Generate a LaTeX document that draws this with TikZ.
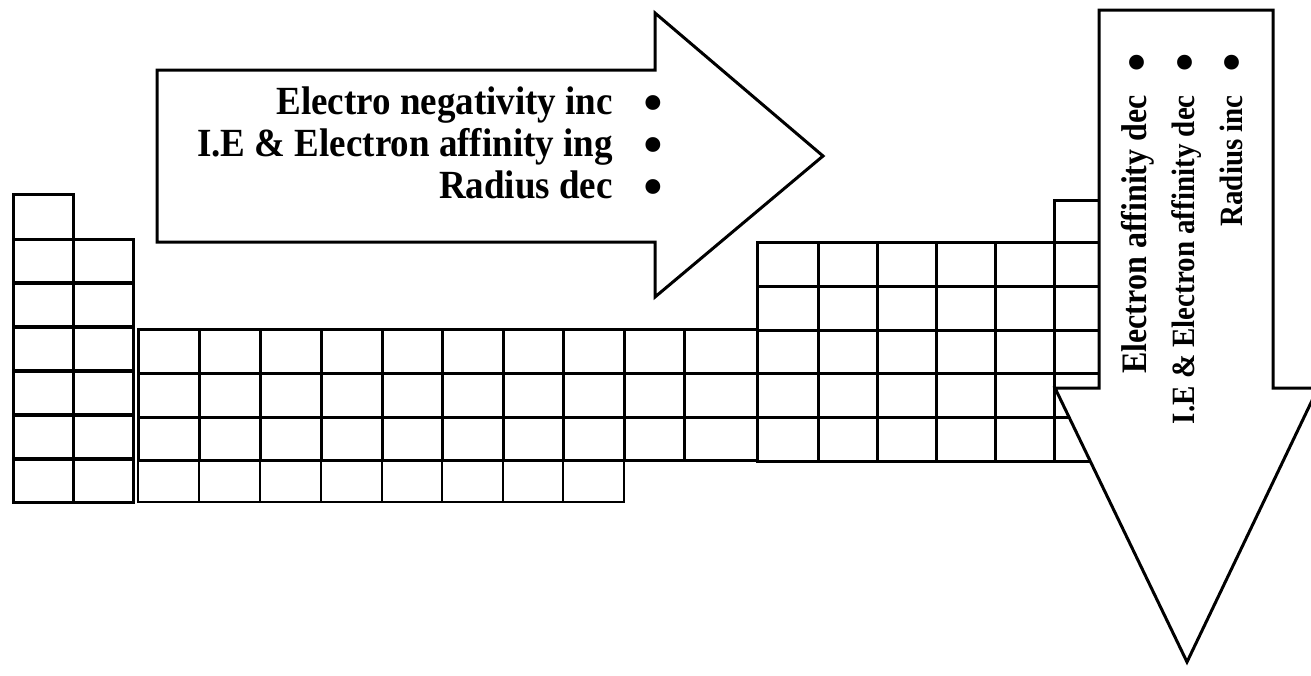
\documentclass[tikz,border=0pt]{standalone}
\usepackage{fontspec}
\setmainfont{Liberation Serif}
\usepackage{tikz}

\begin{document}
\begin{tikzpicture}[x=1pt,y=-1pt]
    \tikzstyle{cell}=[draw=black,line width=3pt]
    \tikzstyle{thin cell}=[draw=black,line width=1.6pt]
    \tikzstyle{big arrow}=[draw=black,fill=white,line width=3pt,miter limit=20]
    \tikzstyle{lbl}=[font=\fontsize{37}{44}\selectfont\bfseries,inner sep=0pt,yscale=1.08]
    \tikzstyle{vlbl}=[font=\fontsize{29}{35}\selectfont\bfseries,inner sep=0pt,rotate=90,yscale=1.12]
    \tikzstyle{dot}=[font=\fontsize{62}{62}\selectfont,inner sep=0pt,anchor=base,text height=0.5em,text depth=0pt]

\clip (0,0) rectangle (1311,675);

% s block
\draw[cell] (13,194) rectangle (73,239);
\foreach \y in {239,283,327,371,415,459}{
\draw[cell] (13,\y) rectangle (73,\y+43.5);
\draw[cell] (73,\y) rectangle (133,\y+43.5);
};

% d block
\foreach \a/\b in {138/199,199/260,260/321,321/382,382/442,442/503,503/563,563/624}{
\draw[thin cell] (\a,460) rectangle (\b,502);
};
\foreach \a/\b in {138/199,199/260,260/321,321/382,382/442,442/503,503/563,563/624,624/684,684/757}{
\foreach \y/\z in {329/373,373/417,417/460}{
\draw[cell] (\a,\y) rectangle (\b,\z);
};
};

% p block
\draw[cell] (1054,200) rectangle (1099,242);
\foreach \a/\b in {757/818,818/877,877/936,936/995,995/1054,1054/1099}{
\foreach \y/\z in {242/286,286/330,330/373,373/417,417/461}{
\draw[cell] (\a,\y) rectangle (\b,\z);
};
};

% arrows
\draw[big arrow] (157,70) -- (655,70) -- (655,13) -- (823,156) -- (655,297) -- (655,242) -- (157,242) -- cycle;
\draw[big arrow] (1099,10) -- (1273,10) -- (1273,388) -- (1318,388) -- (1187,662) -- (1055,388) -- (1099,388) -- cycle;

% across the period
\node[lbl,anchor=base east] (en) at (613,114) {Electro negativity inc};
\node[lbl,anchor=base east] (ie) at (613,156) {I.E \& Electron affinity ing};
\node[lbl,anchor=base east] (rd) at (613,198) {Radius dec};
\node[dot] (en dot) at (653,123) {\textbullet};
\node[dot] (ie dot) at (653,165) {\textbullet};
\node[dot] (rd dot) at (653,207) {\textbullet};

% down the group
\node[vlbl,font=\fontsize{32}{38}\selectfont\bfseries,anchor=base east] (ea) at (1146,95) {Electron affinity dec};
\node[vlbl,anchor=base east] (iev) at (1194,95) {I.E \& Electron affinity dec};
\node[vlbl,anchor=base east] (rv) at (1242,95) {Radius inc};
\node[dot,rotate=90] (ea dot) at (1157,63) {\textbullet};
\node[dot,rotate=90] (iev dot) at (1205,63) {\textbullet};
\node[dot,rotate=90] (rv dot) at (1252,63) {\textbullet};
\end{tikzpicture}
\end{document}
